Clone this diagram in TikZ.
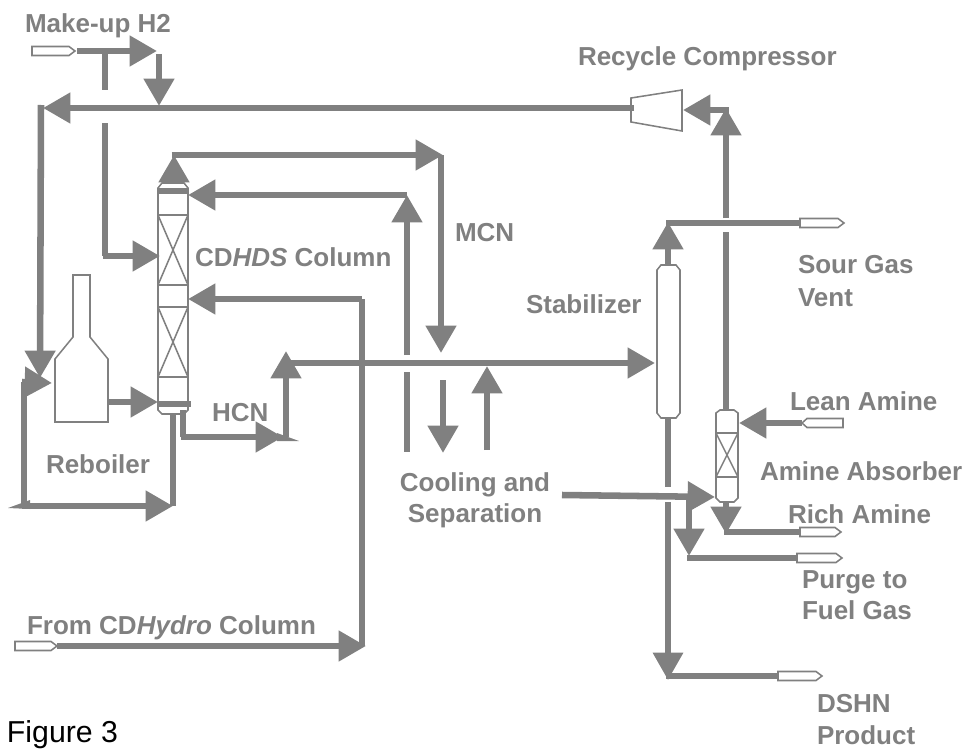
\documentclass[tikz,border=0pt]{standalone}
\usepackage{fontspec}
\setmainfont{Liberation Sans}
\usetikzlibrary{arrows.meta}
\definecolor{pfd}{HTML}{808080}
\tikzset{
  x=0.75pt,y=-0.75pt,
  pipe/.style={draw=pfd,line width=4.9pt},
  flow/.style={pipe,-{Triangle[length=20.5pt,width=22pt]}},
  equip/.style={draw=pfd,line width=1.15pt,fill=white,line join=miter},
  inner/.style={draw=pfd,line width=1.15pt},
  band/.style={draw=pfd,line width=4pt},
  lab/.style={inner sep=0pt,outer sep=0pt,anchor=base west,text=pfd,font=\fontsize{19.5}{23}\selectfont\bfseries},
  labc/.style={lab,anchor=base,align=center},
  tail/.style={fill=pfd,draw=none}
}
\newcommand{\stubR}[3]{\draw[equip] (#1,#3-4.5)--(#2-6,#3-4.5)--(#2,#3)--(#2-6,#3+4.5)--(#1,#3+4.5)--cycle;}
\newcommand{\stubL}[3]{\draw[equip] (#2,#3-4.5)--(#1+5,#3-4.5)--(#1,#3)--(#1+5,#3+4.5)--(#2,#3+4.5)--cycle;}
\begin{document}
\begin{tikzpicture}
\useasboundingbox (0,0) rectangle (964,749);
% coordinates
\foreach \n/\x/\y in {
 muS/77/51,muE/157/51,muT/105/51,muG1/105/90,muG2/105/123,muC/105/256,colF1/160/256,
 j1/159/54,j1e/159/106,
 compOut/634/108,mainE/43/108,lTop/41/105,lTip/40/378,
 rbO/108/402,colB/158/402,
 loopA/24/506,loopB/24/382,loopC/52/383,botE/173/506,botS/173/415,
 hS/183/410,hC/183/437,hE/283/437,hU/286/437,hT/286/351,
 colTop/174/183,colTopT/174/155,ovE/443/155,ovD/441/155,ovDE/441/353,
 rfC/407/195,rfE/188/195,rfL/407/355,rfL2/407/372,rfL3/407/452,
 feed/362/646,feedS/57/646,feedE/366/646,feedU/362/299,feedT/188/299,
 xS/287/363,xE/655/363,
 cd1/443/380,cd2/443/453,cu1/487/450,cu2/487/366,
 stT/668/265,stTT/668/222,stH/666/223,svE/800/223,
 upS/726/218,upT/726/108,upC/726/110,cpI/683/110,
 thA/726/232,thB/726/410,
 lnS/802/423,lnE/739/423,
 stB/668/418,stG/668/487,stG2/668/502,stGE/668/680,dsC/666/676,dsE/778/676,
 clS/562/495,clE/715/497,
 brS/689/497,brE/689/556,prC/687/558,prE/797/558,
 abB/726/503,abE/726/534,raC/724/532,raE/800/532}
 {\coordinate (\n) at (\x,\y);}
% equipment
\draw[equip] (631,98)--(682,90)--(682,131)--(631,122)--cycle;
\draw[equip] (73,275)--(90,275)--(90,337)--(108,359)--(108,422)--(55,422)--(55,359)--(73,337)--cycle;
% CDHDS column
\draw[equip] (158,188)--(162,183)--(184,183)--(188,188)--(188,410)--(184,414)--(162,414)--(158,410)--cycle;
\foreach \y in {215,285,307,377}{\draw[inner] (158,\y)--(188,\y);}
\draw[inner] (158,215)--(188,285) (188,215)--(158,285) (158,307)--(188,377) (188,307)--(158,377);
\draw[band] (158,191)--(188,191);
\draw[band] (158,404)--(191,404);
% Stabilizer
\draw[equip] (657,270)--(661,265)--(676,265)--(680,270)--(680,413)--(676,418)--(661,418)--(657,413)--cycle;
% Amine absorber
\draw[equip] (716,413)--(720,410)--(734,410)--(738,413)--(738,498)--(734,502)--(720,502)--(716,498)--cycle;
\foreach \y in {433,477}{\draw[inner] (716,\y)--(738,\y);}
\draw[inner] (716,433)--(738,477) (738,433)--(716,477);
% stubs
\stubR{32}{75}{51}
\stubR{15}{57}{646}
\stubR{800}{844}{223}
\stubL{802}{843}{423}
\stubR{800}{841}{532}
\stubR{797}{842}{558}
\stubR{778}{822}{676}
% pipes
\draw[flow] (muS)--(muE);
\draw[pipe] (muT)--(muG1);
\draw[pipe] (muG2)--(muC);
\draw[flow] (muC)++(-2.5,0)--(colF1);
\draw[flow] (j1)--(j1e);
\draw[pipe] (j1e)--(159,108);
\draw[flow] (compOut)--(mainE);
\draw[flow] (lTop)--(lTip);
\draw[flow] (rbO)--(colB);
\draw[pipe,line join=miter] (loopA)--(loopB);
\draw[flow] (22,382)--(loopC);
\draw[flow] (21.5,506)--(botE);
\draw[pipe] (botS)--(botE);
\draw[pipe] (hS)--(hC);
\draw[flow] (180.5,437)--(hE);
\draw[flow] (hU)--(hT);
\draw[flow] (colTop)--(colTopT);
\draw[flow] (171.5,155)--(ovE);
\draw[flow] (ovD)--(ovDE);
\draw[flow] (rfC)--(rfE);
\draw[flow] (rfL)--(407,195);
\draw[pipe] (rfL2)--(rfL3);
\draw[flow] (feedS)--(feedE);
\draw[pipe] (feed)--(feedU);
\draw[flow] (362,299)--(feedT);
\draw[flow] (xS)--(xE);
\draw[flow] (cd1)--(cd2);
\draw[flow] (cu1)--(cu2);
\draw[flow] (stT)--(stTT);
\draw[pipe] (stH)--(svE);
\draw[flow] (upS)--(upT);
\draw[flow] (728.5,110)--(cpI);
\draw[pipe,line width=4pt] (thA)--(thB);
\draw[flow] (lnS)--(lnE);
\draw[pipe,line width=4pt] (stB)--(stG);
\draw[flow,line width=4pt] (stG2)--(stGE);
\draw[pipe] (dsC)--(dsE);
\draw[flow] (clS)--(clE);
\draw[flow] (brS)--(brE);
\draw[pipe] (prC)--(prE);
\draw[flow] (abB)--(abE);
\draw[pipe] (raC)--(raE);
% small tails
\fill[tail] (8,508)--(30,500)--(30,509)--cycle;
\fill[tail] (277,433)--(299,441)--(277,441)--cycle;
% labels
\node[lab] (l1) at (25,33) {Make-up H2};
\node[lab] (l2) at (578,65) {Recycle Compressor};
\node[lab] (l3) at (195,266) {CD\textit{HDS} Column};
\node[lab] (l4) at (455,241) {MCN};
\node[lab] (l5) at (526,313) {Stabilizer};
\node[lab] (l6) at (798,273) {Sour Gas};
\node[lab] (l7) at (798,306) {Vent};
\node[lab] (l8) at (212,421) {HCN};
\node[lab] (l9) at (46,473) {Reboiler};
\node[labc] (l10) at (475,491) {Cooling and};
\node[labc] (l11) at (475,522) {Separation};
\node[lab] (l12) at (790,410) {Lean Amine};
\node[lab] (l13) at (760,480) {Amine Absorber};
\node[lab] (l14) at (788,523) {Rich Amine};
\node[lab] (l15) at (802,588) {Purge to};
\node[lab] (l16) at (802,619) {Fuel Gas};
\node[lab] (l17) at (27,634) {From CD\textit{Hydro} Column};
\node[lab] (l18) at (817,712) {DSHN};
\node[lab] (l19) at (817,744) {Product};
\node[inner sep=0pt,outer sep=0pt,anchor=base west,font=\fontsize{22.7}{26}\selectfont] (fig) at (7,742) {Figure 3};
\end{tikzpicture}
\end{document}
